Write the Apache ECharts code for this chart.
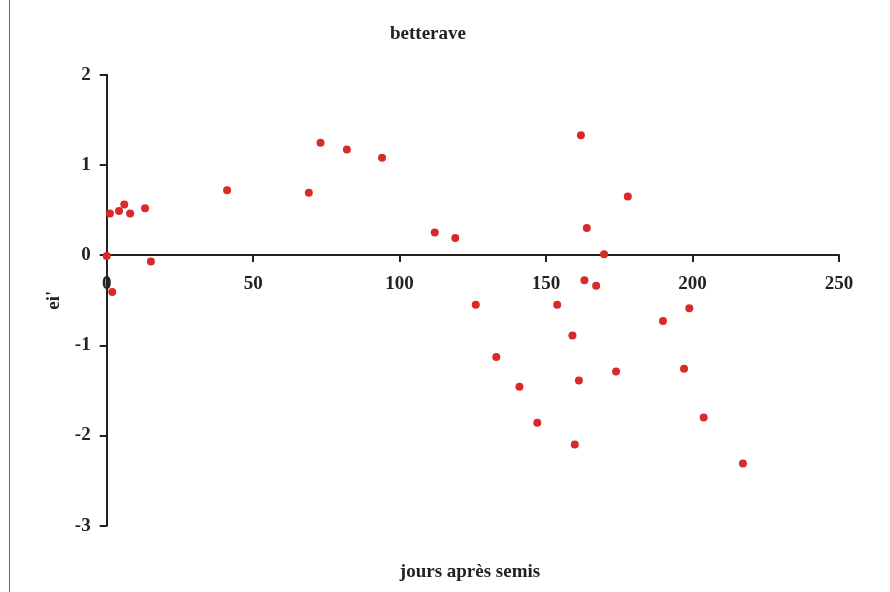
<!DOCTYPE html>
<html>
<head>
<meta charset="utf-8">
<script src="https://cdn.jsdelivr.net/npm/echarts@6/dist/echarts.min.js"></script>
<style>html,body{margin:0;padding:0;background:#fff;}#c{width:890px;height:592px;}</style>
</head>
<body>
<div id="c"></div>
<script>
const titleText = "betterave";
const xAxisTitle = "jours après semis";
const yAxisTitle = "ei'";
const days = [0, 1.1, 4.2, 6.0, 8.0, 13.1, 15.1, 41.1, 1.9, 69.0, 73.0, 82.0, 94.0, 112.0, 119.0, 126.0, 153.8, 159.0, 161.9, 177.9, 163.9, 169.8, 163.1, 167.1, 198.9, 189.9, 133.0, 140.9, 161.2, 173.9, 197.1, 147.0, 159.8, 203.8, 217.2];
const residuals = [-0.01, 0.46, 0.49, 0.56, 0.46, 0.52, -0.07, 0.72, -0.41, 0.69, 1.245, 1.17, 1.08, 0.25, 0.19, -0.55, -0.55, -0.89, 1.33, 0.65, 0.30, 0.01, -0.28, -0.34, -0.59, -0.73, -1.13, -1.46, -1.39, -1.29, -1.26, -1.86, -2.10, -1.80, -2.31];

const points = days.map((d, i) => [d, residuals[i]]);
const font = "'Liberation Serif', 'Times New Roman', serif";
const gridTop = 74.7, gridBottom = 66.3, H = 592;
const yMin = -3, yMax = 2;
const plotH = H - gridTop - gridBottom;
// distance from bottom of grid to the y=0 line
const zeroOffset = plotH * (0 - yMin) / (yMax - yMin);

const chart = echarts.init(document.getElementById('c'));
chart.setOption({
  animation: false,
  backgroundColor: '#fff',
  title: [
    {text: titleText, left: 423, top: 20, textAlign: 'center',
     textStyle: {fontFamily: font, fontWeight: 'bold', fontSize: 19, color: '#222'}},
    {text: xAxisTitle, left: 465, top: 558, textAlign: 'center',
     textStyle: {fontFamily: font, fontWeight: 'bold', fontSize: 19, color: '#222'}}
  ],
  graphic: [
    {type: 'line', shape: {x1: 9.5, y1: 0, x2: 9.5, y2: 592}, style: {stroke: '#666', lineWidth: 1}}
  ],
  grid: {left: 106.7, right: 51, top: gridTop, bottom: gridBottom},
  xAxis: {
    type: 'value', min: 0, max: 250, interval: 50,
    position: 'bottom', offset: -zeroOffset,
    axisLine: {onZero: false, lineStyle: {color: '#222', width: 2}},
    axisTick: {show: true, length: 7, lineStyle: {color: '#222', width: 2}},
    axisLabel: {margin: 19, fontFamily: font, fontWeight: 'bold', fontSize: 19, color: '#222'},
    splitLine: {show: false}
  },
  yAxis: {
    type: 'value', min: yMin, max: yMax, interval: 1,
    name: yAxisTitle, nameLocation: 'middle', nameGap: 38, nameRotate: 90,
    nameTextStyle: {fontFamily: font, fontWeight: 'bold', fontSize: 19, color: '#222'},
    axisLine: {show: true, onZero: false, lineStyle: {color: '#222', width: 2}},
    axisTick: {show: true, length: 7, lineStyle: {color: '#222', width: 2}},
    axisLabel: {margin: 16, fontFamily: font, fontWeight: 'bold', fontSize: 19, color: '#222'},
    splitLine: {show: false}
  },
  series: [{
    type: 'scatter',
    data: points,
    symbol: 'circle',
    symbolSize: 8,
    itemStyle: {color: '#d92a2a', opacity: 1}
  }]
});
</script>
</body>
</html>
